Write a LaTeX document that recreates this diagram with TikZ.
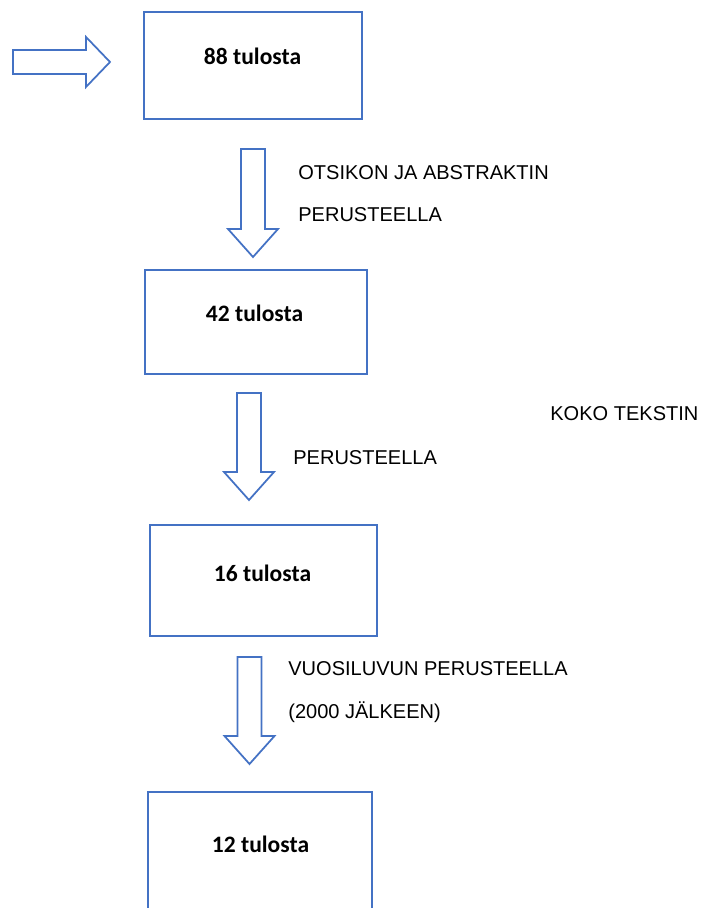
\documentclass[tikz,border=0pt]{standalone}
\usepackage{fontspec}
\setmainfont{Liberation Sans}
\newfontfamily\boxfont{Carlito}
\usetikzlibrary{calc}
\definecolor{officeblue}{RGB}{68,114,196}
\tikzset{
    %Define style for boxes
    resultbox/.style={
           rectangle,
           draw=officeblue,
           line width=1pt,
           minimum width=4.4cm,
           minimum height=2.1cm},
    resulttext/.style={
           font=\boxfont\bfseries\fontsize{13.4}{16}\selectfont,
           inner sep=0pt,
           anchor=base},
    criterion/.style={
           font=\fontsize{11.4}{14}\selectfont,
           inner sep=0pt,
           anchor=base west},
    % Define block arrow style
    blockarrow/.style={
           draw=officeblue,
           line width=1pt,
           line join=miter}
}
% block arrow pointing down: top centre #1, length #2
\newcommand{\downblock}[2]{%
  \draw[blockarrow] ($(#1)+(-12,0)$) -- ++(24,0) -- ++(0,#2-28) -- ++(13,0)
    -- ++(-25,28) -- ++(-25,-28) -- ++(13,0) -- cycle;}
% block arrow pointing right: left centre #1, length #2
\newcommand{\rightblock}[2]{%
  \draw[blockarrow] ($(#1)+(0,-12)$) -- ++(#2-24,0) -- ++(0,-13) -- ++(24,25)
    -- ++(-24,25) -- ++(0,-13) -- ++(-#2+24,0) -- cycle;}

\begin{document}
\begin{tikzpicture}[x=0.02cm,y=-0.02cm]
\useasboundingbox (0,0) rectangle (700,908);
\clip (0,0) rectangle (700,908);
 %boxes
\node[resultbox, minimum width=4.36cm, minimum height=2.14cm] (b1) at (252.7,65.5) {};
\node[resultbox, minimum width=4.44cm, minimum height=2.08cm] (b2) at (256,322) {};
\node[resultbox, minimum width=4.54cm, minimum height=2.22cm] (b3) at (263.5,580.5) {};
\node[resultbox, minimum width=4.48cm, minimum height=2.6cm, anchor=north] (b4) at (260,791) {};
\node[resulttext] (t1) at (252.5,65) {88 tulosta};
\node[resulttext] (t2) at (254.5,322) {42 tulosta};
\node[resulttext] (t3) at (262.5,581) {16 tulosta};
\node[resulttext] (t4) at (260.5,852) {12 tulosta};
 %labels
\node[criterion] (l1a) at (298,179.5) {OTSIKON JA ABSTRAKTIN};
\node[criterion] (l1b) at (298,222) {PERUSTEELLA};
\node[criterion] (l2a) at (550,420) {KOKO TEKSTIN};
\node[criterion] (l2b) at (293,464) {PERUSTEELLA};
\node[criterion] (l3a) at (288,675) {VUOSILUVUN PERUSTEELLA};
\node[criterion] (l3b) at (288,718) {(2000 JÄLKEEN)};
 %arrows
\coordinate (in) at (13,62);
\coordinate (a1) at (253,149);
\coordinate (a2) at (249,393);
\coordinate (a3) at (249.5,657);
\rightblock{in}{97}
\downblock{a1}{108}
\downblock{a2}{107}
\downblock{a3}{107}
\end{tikzpicture}
\end{document}
